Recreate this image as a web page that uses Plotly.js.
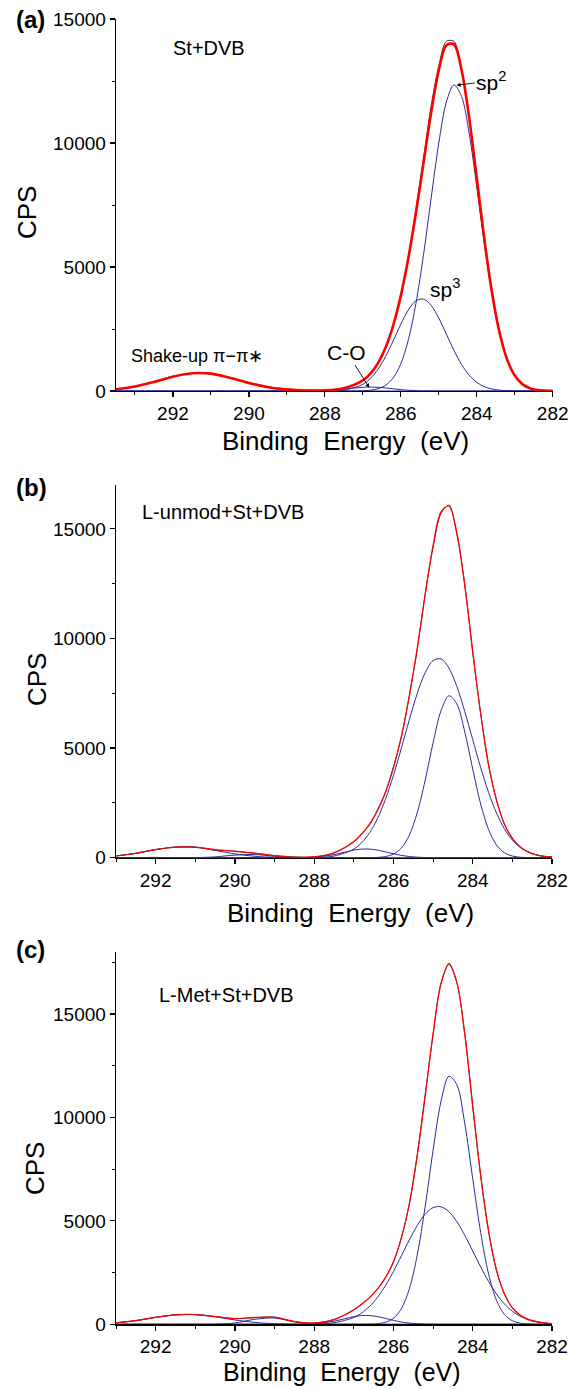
<!DOCTYPE html>
<html>
<head>
<meta charset="utf-8">
<script src="https://cdn.plot.ly/plotly-3.0.1.min.js"></script>
<style>
  html, body { margin: 0; padding: 0; background: #fff; }
  #chart { width: 582px; height: 1389px; }
</style>
</head>
<body>
<div id="chart"></div>
<script>
// C 1s XPS spectra with fitted components, three samples.
// Binding energy grid (eV) shared by every curve.
const energy = [282.0, 282.2, 282.4, 282.6, 282.8, 283.0, 283.2, 283.4, 283.6, 283.8,
                284.0, 284.2, 284.4, 284.6, 284.8, 285.0, 285.2, 285.4, 285.6, 285.8,
                286.0, 286.2, 286.4, 286.6, 286.8, 287.0, 287.5, 288.0, 288.5, 289.0,
                289.5, 290.0, 290.5, 291.0, 291.5, 292.0, 292.5, 293.0, 293.5];

// (a) St+DVB
const aSp2 = [4, 14, 41, 112, 276, 618, 1257, 2323, 3901, 5951,
              8249, 10385, 11879, 12344, 11653, 9994, 7787, 5512, 3543, 2070,
              1098, 530, 232, 92, 33, 11, 0, 0, 0, 0,
              0, 0, 0, 0, 0, 0, 0, 0, 0];
const aSp3 = [0, 0, 0, 0, 1, 4, 13, 33, 80, 175,
              349, 638, 1068, 1636, 2293, 2941, 3451, 3705, 3640, 3272,
              2691, 2025, 1394, 879, 506, 267, 37, 3, 0, 0,
              0, 0, 0, 0, 0, 0, 0, 0, 0];
const aCO = [0, 0, 0, 0, 0, 0, 0, 0, 0, 0,
             0, 0, 0, 0, 0, 1, 2, 6, 15, 31,
             56, 89, 123, 150, 160, 150, 72, 15, 1, 0,
             0, 0, 0, 0, 0, 0, 0, 0, 0];
const aShakeUp = [0, 0, 0, 0, 0, 0, 0, 0, 0, 0,
                  0, 0, 0, 0, 0, 0, 0, 0, 0, 0,
                  0, 0, 0, 0, 0, 0, 1, 4, 17, 57,
                  153, 324, 536, 699, 716, 577, 365, 182, 71];
const aEnvelope = [4, 14, 41, 112, 277, 622, 1270, 2356, 3981, 6126,
                   8598, 11023, 12947, 13980, 13946, 12936, 11240, 9223, 7198, 5373,
                   3845, 2644, 1749, 1121, 699, 428, 110, 22, 18, 57,
                   153, 324, 536, 699, 716, 577, 365, 182, 71];
const aMeasured = [20, 10, 55, 95, 300, 600, 1300, 2300, 3900, 6000,
                   8300, 11000, 12900, 14100, 14100, 13100, 11500, 9400, 7350, 5400,
                   3850, 2620, 1760, 1100, 720, 410, 120, 40, 35, 90,
                   170, 340, 520, 720, 700, 600, 380, 160, 90];

// (b) L-unmod+St+DVB
const bBroad = [30, 65, 133, 256, 467, 806, 1317, 2035, 2975, 4115,
                5385, 6667, 7808, 8651, 9069, 8994, 8438, 7490, 6290, 4996,
                3756, 2670, 1796, 1143, 688, 392, 75, 10, 1, 0,
                0, 0, 0, 0, 0, 0, 0, 0, 0];
const bNarrow = [0, 0, 1, 5, 22, 75, 224, 578, 1282, 2452,
                 4040, 5734, 7012, 7387, 6706, 5244, 3533, 2051, 1026, 442,
                 164, 52, 14, 3, 1, 0, 0, 0, 0, 0,
                 0, 0, 0, 0, 0, 0, 0, 0, 0];
const bCO = [0, 0, 0, 0, 0, 0, 0, 0, 0, 0,
             0, 0, 0, 0, 1, 3, 10, 25, 55, 106,
             179, 265, 345, 393, 393, 345, 140, 25, 2, 0,
             0, 0, 0, 0, 0, 0, 0, 0, 0];
const bCarboxyl = [0, 0, 0, 0, 0, 0, 0, 0, 0, 0,
                   0, 0, 0, 0, 0, 0, 0, 0, 0, 0,
                   0, 0, 0, 0, 0, 0, 0, 1, 12, 66,
                   144, 118, 37, 4, 0, 0, 0, 0, 0];
const bShakeUp = [0, 0, 0, 0, 0, 0, 0, 0, 0, 0,
                  0, 0, 0, 0, 0, 0, 0, 0, 0, 0,
                  0, 0, 0, 0, 0, 0, 0, 1, 4, 18,
                  65, 173, 334, 473, 488, 367, 202, 81, 24];
const bEnvelope = [30, 65, 134, 261, 489, 881, 1541, 2613, 4257, 6567,
                   9425, 12401, 14820, 16038, 15776, 14241, 11981, 9566, 7371, 5544,
                   4099, 2987, 2155, 1539, 1082, 737, 215, 37, 19, 84,
                   209, 291, 371, 477, 488, 367, 202, 81, 24];
const bMeasured = [40, 55, 120, 270, 470, 900, 1520, 2650, 4200, 6600,
                   9350, 12450, 14750, 16080, 15700, 14150, 12050, 9500, 7400, 5500,
                   4150, 3000, 2200, 1500, 1100, 720, 230, 30, 40, 100,
                   200, 300, 350, 490, 470, 380, 190, 90, 30];

// (c) L-Met+St+DVB
const cNarrow = [0, 1, 3, 14, 53, 170, 475, 1153, 2429, 4440,
                 7044, 9695, 11579, 11997, 10785, 8413, 5694, 3343, 1704, 753,
                 289, 96, 28, 7, 2, 0, 0, 0, 0, 0,
                 0, 0, 0, 0, 0, 0, 0, 0, 0];
const cBroad = [32, 64, 123, 223, 385, 632, 987, 1465, 2067, 2775,
                3541, 4298, 4961, 5445, 5682, 5640, 5323, 4777, 4077, 3309,
                2554, 1875, 1308, 869, 548, 329, 74, 12, 1, 0,
                0, 0, 0, 0, 0, 0, 0, 0, 0];
const cCO = [0, 0, 0, 0, 0, 0, 0, 0, 0, 0,
             0, 0, 0, 0, 1, 4, 11, 27, 59, 114,
             192, 285, 371, 423, 423, 371, 150, 27, 2, 0,
             0, 0, 0, 0, 0, 0, 0, 0, 0];
const cCarboxyl = [0, 0, 0, 0, 0, 0, 0, 0, 0, 0,
                   0, 0, 0, 0, 0, 0, 0, 0, 0, 0,
                   0, 0, 0, 0, 0, 0, 1, 15, 122, 304,
                   242, 61, 5, 0, 0, 0, 0, 0, 0];
const cShakeUp = [0, 0, 0, 0, 0, 0, 0, 0, 0, 0,
                  0, 0, 0, 0, 0, 0, 0, 0, 0, 0,
                  0, 0, 0, 0, 0, 0, 0, 1, 7, 30,
                  92, 210, 362, 469, 456, 333, 182, 75, 23];
const cEnvelope = [32, 65, 126, 237, 438, 802, 1462, 2618, 4496, 7215,
                   10585, 13993, 16540, 17442, 16468, 14057, 11028, 8147, 5840, 4176,
                   3035, 2256, 1707, 1299, 973, 700, 225, 55, 132, 334,
                   334, 271, 367, 469, 456, 333, 182, 75, 23];
const cMeasured = [20, 70, 140, 230, 450, 790, 1480, 2600, 4520, 7200,
                   10500, 14050, 16500, 17400, 16500, 14000, 11100, 8200, 5800, 4200,
                   3000, 2270, 1720, 1280, 990, 690, 230, 60, 140, 350,
                   320, 280, 380, 470, 460, 340, 170, 80, 30];

const FONT = 'Liberation Sans, Arial, Helvetica, sans-serif';
const BLUE = '#2a2a9c';
const RED = '#ff0000';
const DATA = '#3a3a3a';

function curve(y, xa, ya, color, width) {
  return {
    x: energy, y: y, xaxis: xa, yaxis: ya, type: 'scatter', mode: 'lines',
    line: { color: color, width: width, shape: 'spline', smoothing: 0.9 },
    hoverinfo: 'skip', showlegend: false
  };
}

function panelTraces(components, measured, envelope, xa, ya, envWidth) {
  const list = components.map(c => curve(c, xa, ya, BLUE, 1));
  list.push(curve(measured, xa, ya, DATA, 1));
  list.push(curve(envelope, xa, ya, RED, envWidth));
  return list;
}

const traces = [].concat(
  panelTraces([aSp2, aSp3, aCO, aShakeUp], aMeasured, aEnvelope, 'x', 'y', 2.6),
  panelTraces([bBroad, bNarrow, bCO, bCarboxyl, bShakeUp], bMeasured, bEnvelope, 'x2', 'y2', 1.2),
  panelTraces([cNarrow, cBroad, cCO, cCarboxyl, cShakeUp], cMeasured, cEnvelope, 'x3', 'y3', 1.2)
);

const W = 582, H = 1389;
const px = v => v / W;
const py = v => 1 - v / H;

function xAxis(domain, anchor, range) {
  return {
    domain: domain, anchor: anchor, range: range, autorange: false,
    tick0: 282, dtick: 2, ticks: 'outside', ticklen: 5, tickwidth: 1.2, tickcolor: '#000',
    showline: true, linecolor: '#000', linewidth: 1.3, showgrid: false, zeroline: false,
    tickfont: { family: FONT, size: 19, color: '#000' },
    minor: { ticks: 'outside', ticklen: 3, tickwidth: 1, tickcolor: '#000', dtick: 1, showgrid: false },
    fixedrange: true
  };
}

function yAxis(domain, anchor, range) {
  return {
    domain: domain, anchor: anchor, range: range, autorange: false,
    tick0: 0, dtick: 5000, tickformat: 'd', ticks: 'outside', ticklen: 5, tickwidth: 1.2, tickcolor: '#000',
    showline: true, linecolor: '#000', linewidth: 1.3, showgrid: false, zeroline: false,
    tickfont: { family: FONT, size: 19, color: '#000' },
    minor: { ticks: 'outside', ticklen: 3, tickwidth: 1, tickcolor: '#000', dtick: 2500, showgrid: false },
    fixedrange: true
  };
}

function paperText(text, x, y, size, extra) {
  return Object.assign({
    text: text, xref: 'paper', yref: 'paper', x: px(x), y: py(y),
    xanchor: 'center', yanchor: 'middle', showarrow: false,
    font: { family: FONT, size: size, color: '#000' }
  }, extra || {});
}

function dataText(text, xa, ya, x, y, size) {
  return {
    text: text, xref: xa, yref: ya, x: x, y: y,
    xanchor: 'center', yanchor: 'middle', showarrow: false,
    font: { family: FONT, size: size, color: '#000' }
  };
}

function pointer(text, xa, ya, tipX, tipY, labelX, labelY, size) {
  return {
    text: text, xref: xa, yref: ya, x: tipX, y: tipY,
    axref: xa, ayref: ya, ax: labelX, ay: labelY,
    showarrow: true, arrowhead: 2, arrowsize: 0.9, arrowwidth: 0.9, arrowcolor: '#000',
    standoff: 0, startstandoff: 0,
    font: { family: FONT, size: size, color: '#000' }
  };
}

const annotations = [
  // panel letters
  paperText('<b>(a)</b>', 30, 19, 24),
  paperText('<b>(b)</b>', 31, 487, 24),
  paperText('<b>(c)</b>', 30, 949, 24),
  // axis titles
  paperText('Binding\u00a0 Energy\u00a0 (eV)', 345, 441, 26),
  paperText('Binding\u00a0 Energy\u00a0 (eV)', 350, 913, 26),
  paperText('Binding\u00a0 Energy\u00a0 (eV)', 342, 1372, 25),
  paperText('CPS', 27, 213, 26, { textangle: -90 }),
  paperText('CPS', 37, 680, 26, { textangle: -90 }),
  paperText('CPS', 35, 1169, 26, { textangle: -90 }),
  // sample names
  dataText('St+DVB', 'x', 'y', 291.05, 13830, 20),
  dataText('L-unmod+St+DVB', 'x2', 'y2', 290.3, 15770, 20),
  dataText('L-Met+St+DVB', 'x3', 'y3', 290.2, 15910, 20),
  // peak labels in (a)
  pointer('sp<sup>2</sup>', 'x', 'y', 284.53, 12330, 283.62, 12500, 21),
  dataText('sp<sup>3</sup>', 'x', 'y', 284.83, 4150, 21),
  pointer('C-O', 'x', 'y', 286.83, 130, 287.42, 1570, 21),
  dataText('Shake-up \u03c0\u2212\u03c0\u2217', 'x', 'y', 291.38, 1410, 18)
];

const layout = {
  width: W, height: H,
  margin: { l: 0, r: 0, t: 0, b: 0 },
  paper_bgcolor: '#fff', plot_bgcolor: '#fff',
  showlegend: false,
  xaxis: xAxis([px(116), px(552.7)], 'y', [293.5, 282]),
  yaxis: yAxis([py(391), py(19)], 'x', [0, 15000]),
  xaxis2: xAxis([px(116), px(552)], 'y2', [293, 282]),
  yaxis2: yAxis([py(857.7), py(485)], 'x2', [0, 17000]),
  xaxis3: xAxis([px(116), px(552)], 'y3', [293, 282]),
  yaxis3: yAxis([py(1324.3), py(952)], 'x3', [0, 18000]),
  annotations: annotations
};

Plotly.newPlot('chart', traces, layout, { displayModeBar: false, staticPlot: true });
</script>
</body>
</html>
